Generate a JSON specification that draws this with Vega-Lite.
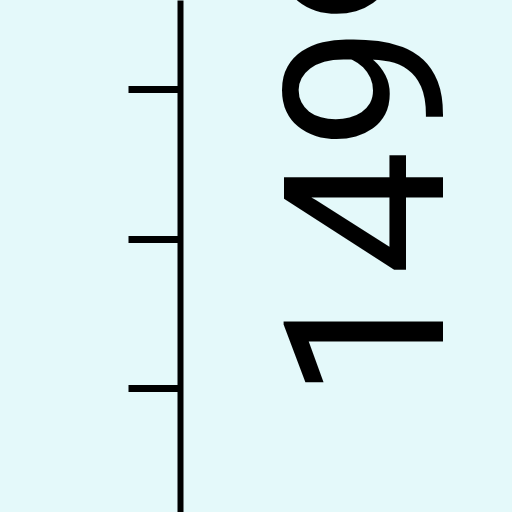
{
  "$schema": "https://vega.github.io/schema/vega-lite/v6.json",
  "width": 332,
  "height": 512,
  "autosize": {"type": "none"},
  "padding": {"left": 180, "top": 0, "right": 0, "bottom": 0},
  "background": "#e4f9fa",
  "config": {"view": {"stroke": null}},
  "data": {"values": [{"label": "1499", "pos": 0.915, "across": 0.792}]},
  "mark": {
    "type": "text",
    "angle": 270,
    "align": "left",
    "baseline": "alphabetic",
    "font": "Roboto",
    "fontSize": 223,
    "color": "black"
  },
  "encoding": {
    "x": {
      "field": "across",
      "type": "quantitative",
      "scale": {"domain": [0, 1], "nice": false, "zero": false},
      "axis": null
    },
    "y": {
      "field": "pos",
      "type": "quantitative",
      "scale": {"domain": [0.171, 3.595], "nice": false, "zero": false},
      "axis": {
        "values": [1, 2, 3],
        "labels": false,
        "title": null,
        "grid": false,
        "tickSize": 52,
        "tickWidth": 7,
        "tickColor": "black",
        "domainWidth": 6,
        "domainColor": "black"
      }
    },
    "text": {"field": "label", "type": "nominal"}
  }
}
